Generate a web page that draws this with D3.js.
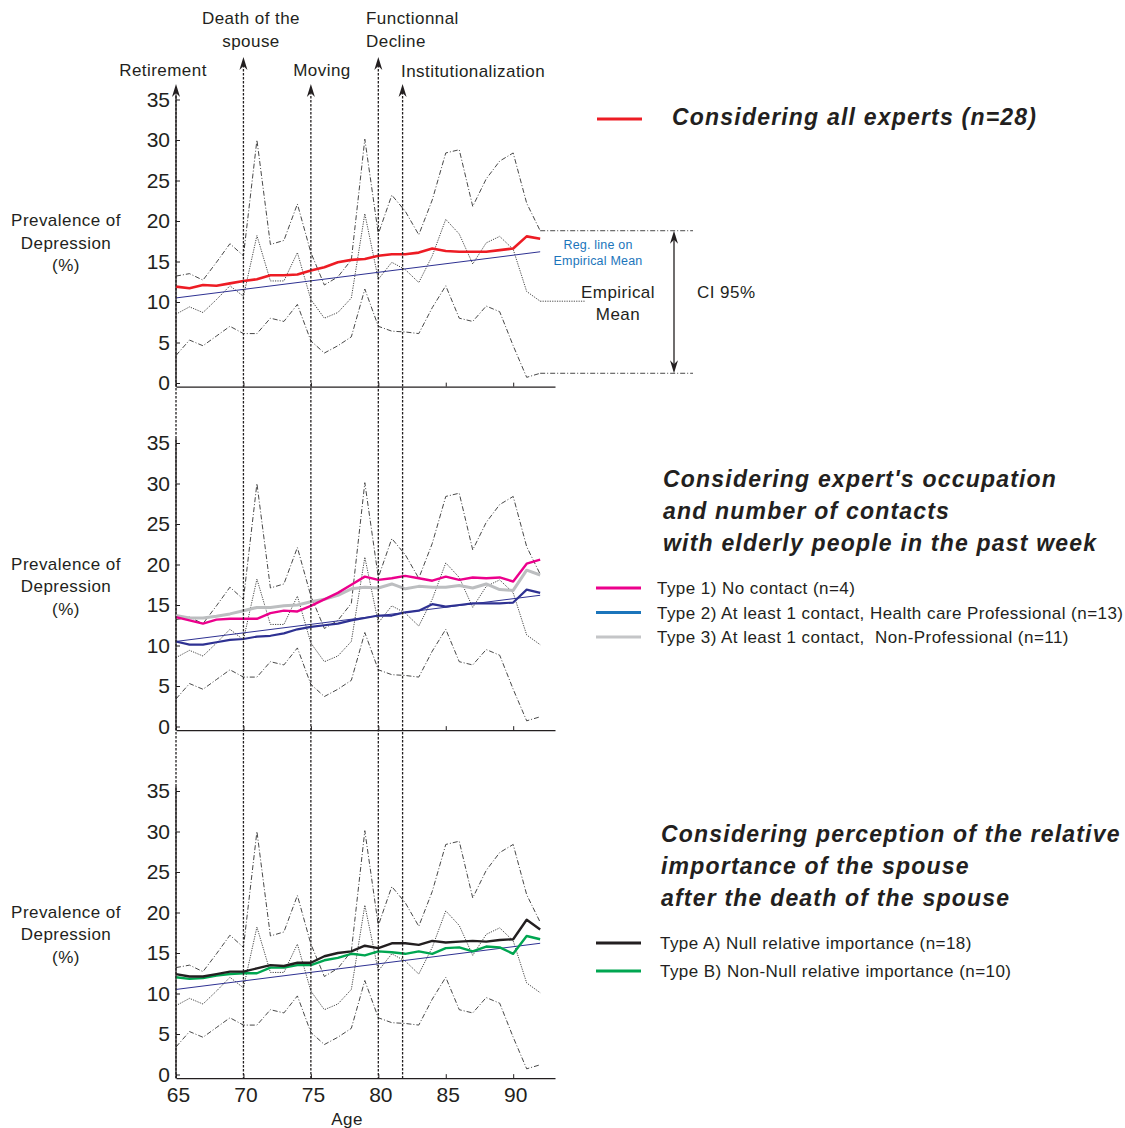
<!DOCTYPE html>
<html>
<head>
<meta charset="utf-8">
<script src="https://cdn.jsdelivr.net/npm/d3@7"></script>
<style>
  body { margin: 0; background: #fff; }
  svg text { font-family: "Liberation Sans", Arial, Helvetica, sans-serif; fill: #231f20; white-space: pre; }
</style>
</head>
<body>
<div class="chart"></div>
<script>
// ages on x axis
var ages = [65, 66, 67, 68, 69, 70, 71, 72, 73, 74, 75, 76, 77, 78, 79,
            80, 81, 82, 83, 84, 85, 86, 87, 88, 89, 90, 91, 92];

// empirical data shared by the three panels
var ciUpper = [13.2, 13.5, 12.7, 14.9, 17.2, 15.7, 30.0, 17.1, 17.6, 22.1, 16.1, 12.1, 13.1, 15.2,
               30.1, 18.4, 23.2, 21.2, 18.3, 22.6, 28.4, 28.8, 21.8, 25.2, 27.4, 28.4, 22.2, 18.8];
var empMean = [8.5, 9.4, 8.7, 10.3, 12.0, 10.7, 18.2, 12.6, 12.6, 16.1, 10.3, 8.0, 8.7, 10.5,
               20.9, 12.8, 14.9, 14.0, 12.4, 15.7, 20.2, 18.4, 14.7, 17.3, 18.1, 16.5, 11.3, 10.1];
var ciLower = [3.4, 5.3, 4.6, 5.8, 7.0, 6.1, 6.1, 8.0, 7.6, 9.7, 5.2, 3.7, 4.6, 5.7,
               11.6, 7.0, 6.4, 6.3, 6.1, 9.3, 12.0, 8.0, 7.6, 9.5, 8.8, 4.6, 0.7, 1.2];
// regression line on empirical mean (values at 65 and 92)
var regAges = [65, 92];
var regValues = [10.5, 16.2];

// panel 1 : all experts
var allExperts = [11.9, 11.7, 12.1, 12.0, 12.3, 12.6, 12.8, 13.3, 13.3, 13.4, 13.9, 14.3, 14.9, 15.2,
                  15.3, 15.7, 15.9, 15.9, 16.1, 16.6, 16.3, 16.2, 16.2, 16.2, 16.4, 16.6, 18.1, 17.8];

// panel 2 : occupation / contacts
var type1 = [13.5, 13.1, 12.7, 13.2, 13.3, 13.3, 13.3, 14.0, 14.3, 14.2, 14.9, 15.7, 16.5, 17.5,
             18.5, 18.1, 18.3, 18.6, 18.3, 18.0, 18.5, 18.1, 18.4, 18.3, 18.4, 17.9, 20.1, 20.6];
var type2 = [10.5, 10.1, 10.1, 10.4, 10.7, 10.8, 11.1, 11.2, 11.5, 12.0, 12.3, 12.5, 12.7, 13.1,
             13.4, 13.7, 13.7, 14.1, 14.3, 15.1, 14.8, 15.0, 15.2, 15.2, 15.2, 15.3, 16.9, 16.5];
var type3 = [13.7, 13.4, 13.4, 13.6, 13.9, 14.3, 14.7, 14.7, 14.9, 15.0, 15.4, 15.7, 16.2, 17.0,
             17.2, 17.1, 17.6, 17.0, 17.3, 17.2, 17.2, 17.4, 17.1, 17.6, 16.9, 16.8, 19.3, 18.7];

// panel 3 : relative importance of the spouse
var typeA = [12.4, 12.1, 12.1, 12.4, 12.7, 12.7, 13.1, 13.5, 13.4, 13.8, 13.8, 14.6, 15.0, 15.2,
             15.9, 15.6, 16.2, 16.2, 16.0, 16.5, 16.3, 16.4, 16.5, 16.4, 16.6, 16.7, 19.1, 17.9];
var typeB = [12.0, 11.8, 11.9, 12.2, 12.4, 12.5, 12.5, 13.2, 13.2, 13.5, 13.5, 14.1, 14.4, 14.9,
             14.7, 15.2, 15.1, 14.9, 15.2, 14.9, 15.6, 15.7, 15.2, 15.8, 15.7, 14.9, 17.1, 16.7];

var yTicks = [0, 5, 10, 15, 20, 25, 30, 35];
var xTicks = [65, 70, 75, 80, 85, 90];

// life events
var eventAges = [65, 70, 75, 80, 81.8];
var eventLabels = [["Retirement"], ["Death of the", "spouse"], ["Moving"], ["Functionnal", "Decline"], ["Institutionalization"]];

var svgWidth = 1125, svgHeight = 1128;
var svg = d3.select(".chart").append("svg")
  .attr("width", svgWidth).attr("height", svgHeight);

var x = d3.scaleLinear().domain([65, 93.1]).range([176, 555]);

// one y scale per panel
var panels = [
  { y: d3.scaleLinear().domain([0, 35]).range([383, 99.5]) },
  { y: d3.scaleLinear().domain([0, 35]).range([726.5, 443]) },
  { y: d3.scaleLinear().domain([0, 35]).range([1074.5, 791]) }
];
var bottomY = panels[2].y(-0.45);

function line(y) {
  return d3.line().x(function(d, i) { return x(ages[i]); }).y(function(d) { return y(d); });
}

// label text style (reference glyphs are a bit wider than Liberation Sans)
function labelStyle(sel, size) {
  return sel.style("font-size", size + "px").style("letter-spacing", "0.45px");
}

panels.forEach(function(p, k) {
  var g = svg.append("g");
  var y = p.y;
  var axisY = y(-0.45);

  // empirical CI + mean
  g.append("path").datum(ciUpper).attr("d", line(y))
    .attr("fill", "none").attr("stroke", "#333").attr("stroke-width", 0.9)
    .attr("stroke-dasharray", "5,2,1,2");
  g.append("path").datum(ciLower).attr("d", line(y))
    .attr("fill", "none").attr("stroke", "#333").attr("stroke-width", 0.9)
    .attr("stroke-dasharray", "5,2,1,2");
  g.append("path").datum(empMean).attr("d", line(y))
    .attr("fill", "none").attr("stroke", "#333").attr("stroke-width", 0.9)
    .attr("stroke-dasharray", "1.2,1.2");

  // axes
  var left = d3.axisLeft(y).tickValues(yTicks).tickSizeInner(-4).tickSizeOuter(0).tickPadding(8);
  var ga = g.append("g").attr("transform", "translate(176,0)").call(left);
  ga.select(".domain").remove();
  ga.selectAll("text").style("font-size", "21px").attr("x", -6);
  ga.selectAll("line").attr("stroke", "#231f20");
  g.append("line").attr("x1", 176).attr("x2", 176).attr("y1", y(35.6)).attr("y2", axisY)
    .attr("stroke", "#231f20").attr("stroke-width", 1.3);

  var bottom = d3.axisBottom(x).tickValues(xTicks).tickSizeInner(-4).tickSizeOuter(0).tickPadding(9);
  var gb = g.append("g").attr("transform", "translate(0," + axisY + ")").call(bottom);
  gb.select(".domain").attr("stroke", "#231f20").attr("stroke-width", 1.3);
  gb.selectAll("line").attr("stroke", "#231f20");
  if (k < 2) gb.selectAll("text").remove();
  else gb.selectAll("text").style("font-size", "21px").attr("dx", 2);

  // y label
  var yl = labelStyle(g.append("text").attr("text-anchor", "middle"), 17);
  ["Prevalence of", "Depression", "(%)"].forEach(function(t, i) {
    yl.append("tspan").attr("x", 66).attr("y", y(20) + 5 + i * 22.5).text(t);
  });
});

var y1 = panels[0].y, y2 = panels[1].y, y3 = panels[2].y;

function regLine(g, y) {
  g.append("line")
    .attr("x1", x(regAges[0])).attr("y1", y(regValues[0]))
    .attr("x2", x(regAges[1])).attr("y2", y(regValues[1]))
    .attr("stroke", "#2e3192").attr("stroke-width", 1);
}
function series(data, y, color, w) {
  svg.append("path").datum(data).attr("d", line(y))
    .attr("fill", "none").attr("stroke", color).attr("stroke-width", w)
    .attr("stroke-linejoin", "round");
}

regLine(svg, y1);
series(allExperts, y1, "#ed1c24", 2.6);

regLine(svg, y2);
series(type3, y2, "#bcbec0", 3);
series(type2, y2, "#2e3192", 2.2);
series(type1, y2, "#ec008c", 2.4);

regLine(svg, y3);
series(typeB, y3, "#00a651", 2.4);
series(typeA, y3, "#231f20", 2.4);

// annotation on panel 1 (CI 95%, empirical mean)
var last = ages.length - 1;
svg.append("line").attr("x1", x(92)).attr("x2", 693)
  .attr("y1", y1(ciUpper[last])).attr("y2", y1(ciUpper[last]))
  .attr("stroke", "#333").attr("stroke-width", 0.9).attr("stroke-dasharray", "5,2,1,2");
svg.append("line").attr("x1", x(92)).attr("x2", 693)
  .attr("y1", y1(ciLower[last])).attr("y2", y1(ciLower[last]))
  .attr("stroke", "#333").attr("stroke-width", 0.9).attr("stroke-dasharray", "5,2,1,2");
svg.append("line").attr("x1", x(92)).attr("x2", 585)
  .attr("y1", y1(empMean[last])).attr("y2", y1(empMean[last]))
  .attr("stroke", "#333").attr("stroke-width", 0.9).attr("stroke-dasharray", "1.2,1.2");

function arrowHead(px, py, dir) {
  // dir = -1 points up, 1 points down
  svg.append("path")
    .attr("d", "M0,0 L-4," + (-13 * dir) + " L0," + (-9 * dir) + " L4," + (-13 * dir) + " Z")
    .attr("transform", "translate(" + px + "," + py + ")")
    .attr("fill", "#231f20");
}
svg.append("line").attr("x1", 674).attr("x2", 674)
  .attr("y1", y1(ciUpper[last]) + 4).attr("y2", y1(ciLower[last]) - 4)
  .attr("stroke", "#231f20").attr("stroke-width", 1.3);
arrowHead(674, y1(ciUpper[last]), -1);
arrowHead(674, y1(ciLower[last]), 1);

labelStyle(svg.append("text").attr("x", 697).attr("y", 298), 17).text("CI 95%");
var em = labelStyle(svg.append("text").attr("text-anchor", "middle"), 17);
em.append("tspan").attr("x", 618).attr("y", 298).text("Empirical");
em.append("tspan").attr("x", 618).attr("y", 320).text("Mean");
var rl = svg.append("text").attr("text-anchor", "middle").style("font-size", "12.5px")
  .style("letter-spacing", "0.2px");
rl.append("tspan").attr("x", 598).attr("y", 249).style("fill", "#1b75bb").text("Reg. line on");
rl.append("tspan").attr("x", 598).attr("y", 265).style("fill", "#1b75bb").text("Empirical Mean");

// life events : dashed vertical lines with arrows
var tipY = [84, 57, 84, 57, 84];
eventAges.forEach(function(a, i) {
  svg.append("line").attr("x1", x(a)).attr("x2", x(a))
    .attr("y1", tipY[i] + 8).attr("y2", bottomY)
    .attr("stroke", "#231f20").attr("stroke-width", 1.3).attr("stroke-dasharray", "2.5,1.5");
  arrowHead(x(a), tipY[i], -1);
});
var evPos = [[163, 76, "middle"], [251, 24, "middle"], [322, 76, "middle"], [366, 24, "start"], [401, 77, "start"]];
eventLabels.forEach(function(lines, i) {
  var t = labelStyle(svg.append("text").attr("text-anchor", evPos[i][2]), 17);
  lines.forEach(function(s, j) {
    t.append("tspan").attr("x", evPos[i][0]).attr("y", evPos[i][1] + j * 22.5).text(s);
  });
});

// titles and legends
function title(lines, tx, ty) {
  var t = svg.append("text").style("font-size", "23px").style("font-weight", "bold")
    .style("font-style", "italic").style("letter-spacing", "1.2px");
  lines.forEach(function(s, j) {
    t.append("tspan").attr("x", tx).attr("y", ty + j * 32).text(s);
  });
}
function legend(items, lx, tx, ly, step) {
  items.forEach(function(it, j) {
    svg.append("line").attr("x1", lx).attr("x2", lx + 45)
      .attr("y1", ly + j * step).attr("y2", ly + j * step)
      .attr("stroke", it[1]).attr("stroke-width", 3);
    labelStyle(svg.append("text").attr("x", tx).attr("y", ly + j * step + 6), 17).text(it[0]);
  });
}

legend([["", "#ed1c24"]], 597, 0, 119, 0);
title(["Considering all experts (n=28)"], 672, 125);

title(["Considering expert's occupation", "and number of contacts", "with elderly people in the past week"], 663, 487);
legend([["Type 1) No contact (n=4)", "#ec008c"],
        ["Type 2) At least 1 contact, Health care Professional (n=13)", "#1b75bb"],
        ["Type 3) At least 1 contact,  Non-Professional (n=11)", "#c4c5c7"]], 596, 657, 588, 24.5);

title(["Considering perception of the relative", "importance of the spouse", "after the death of the spouse"], 661, 842);
legend([["Type A) Null relative importance (n=18)", "#231f20"],
        ["Type B) Non-Null relative importance (n=10)", "#00a651"]], 596, 660, 943, 28);

labelStyle(svg.append("text").attr("x", 347).attr("y", 1125).attr("text-anchor", "middle"), 17).text("Age");
</script>
</body>
</html>
